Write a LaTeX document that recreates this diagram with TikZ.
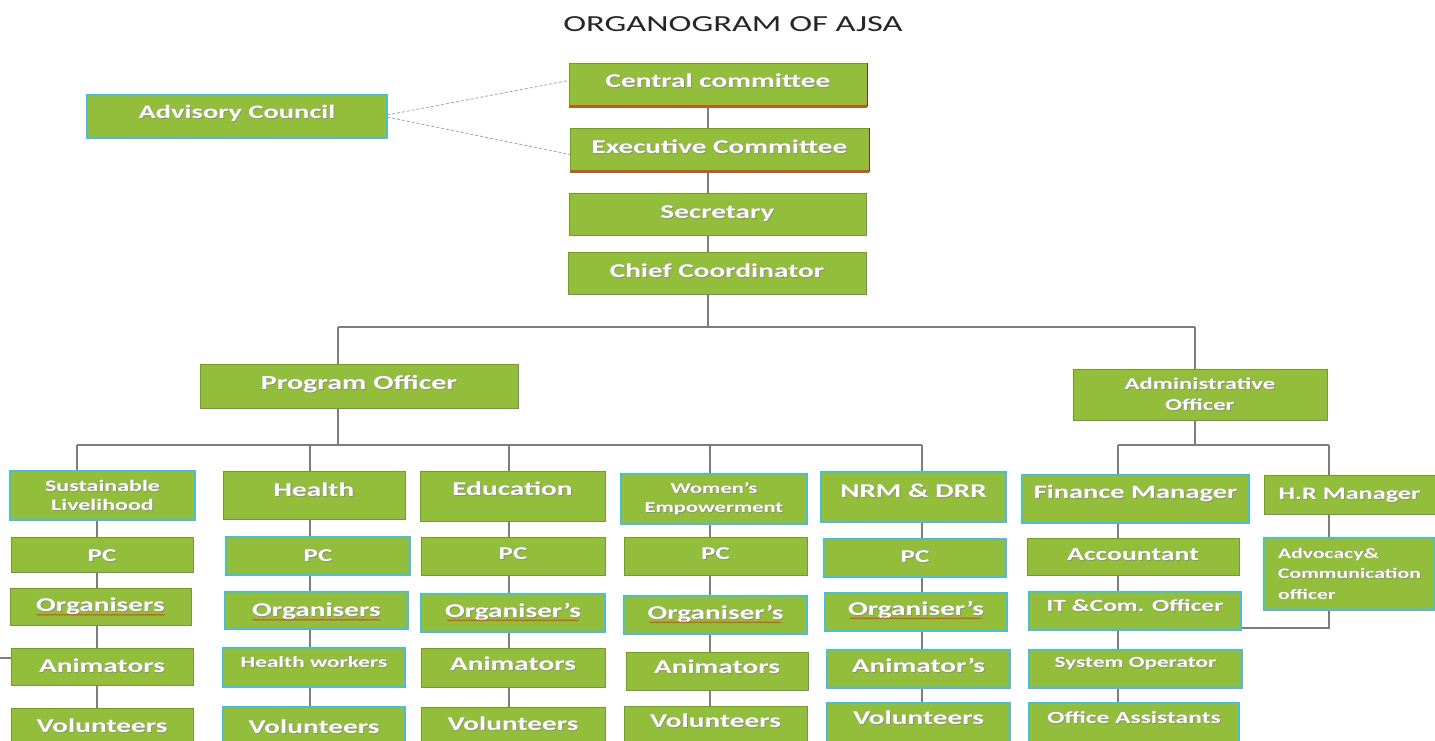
\documentclass[tikz,border=0pt]{standalone}
\usepackage{fontspec}
\setmainfont{Carlito}
\newfontfamily\bxf[FakeStretch=1.5]{Carlito}
\newfontfamily\ttlf[FakeStretch=1.5]{Carlito}
\usetikzlibrary{backgrounds,decorations.pathmorphing}
\definecolor{gr}{RGB}{146,190,60}
\definecolor{tl}{RGB}{78,190,205}
\definecolor{og}{RGB}{185,95,25}
\definecolor{ln}{RGB}{125,125,125}
\definecolor{sq}{RGB}{215,75,30}
\newcommand\sh[1]{\leavevmode\rlap{\kern0.9pt\raisebox{-0.9pt}{\color{black!45}#1}}#1}
\newcommand\tx[2]{\raisebox{\dimexpr#1pt-0.322em\relax}[0pt][0pt]{\sh{#2}}}
\tikzset{
 box/.style={rectangle, fill=gr, draw=gr!80!black, line width=0.6pt, inner sep=0pt, outer sep=0pt, text=white, font=\bxf\bfseries\fontsize{19.5}{22}\selectfont},
 tbox/.style={box, draw=tl, line width=1.8pt},
 bx/.style args={#1/#2/#3/#4}{at={({(#1+#3)/2},{(#2+#4)/2})}, minimum width={#3-#1}, minimum height={#4-#2}},
 fs/.style 2 args={font=\bxf\bfseries\fontsize{#1}{#2}\selectfont},
 conn/.style={draw=ln, line width=1.1pt},
 dsh/.style={draw=ln!70, line width=0.8pt, densely dashed},
 squig/.style={draw=sq, line width=0.7pt, decorate, decoration={snake, amplitude=0.6pt, segment length=2.6pt}},
 orb/.style={draw=og, line width=2.6pt},
}
\begin{document}
\begin{tikzpicture}[x=1pt,y=-1pt]
\useasboundingbox (0,0) rectangle (1435,741);
% title
\node[font=\ttlf\fontsize{23}{26}\selectfont, text=black!85] (title) at (733,24) {ORGANOGRAM OF AJSA};
% top
\node[tbox, bx=87/95/387/138, fs={19}{22}] (adv) {\tx{4.5}{Advisory Council}};
\node[box, bx=569/63/867/106] (cen) {\tx{3}{Central committee}};
\node[box, bx=570/128/869/171] (exe) {\tx{2.5}{Executive Committee}};
\node[box, bx=569/193/866/235] (sec) {\tx{1.5}{Secretary}};
\node[box, bx=568/252/866/294] (chief) {\tx{2}{Chief Coordinator}};
\node[box, bx=200/364/518/408, fs={20}{23}] (prog) {\tx{3}{Program Officer}};
\node[box, bx=1073/369/1327/420, fs={16.5}{21}, align=center] (admin) {\sh{Administrative}\\\sh{Officer}};
% row 1
\node[tbox, bx=10/471/195/520, fs={16}{19}, align=center] (s0) {\sh{Sustainable}\\\sh{Livelihood}};
\node[box, bx=223/471/405/519] (h0) {\tx{4.5}{Health}};
\node[box, bx=420/471/605/521] (e0) {\tx{7}{Education}};
\node[tbox, bx=621/474/807/524, fs={15}{19}, align=center] (w0) {\sh{Women’s}\\\sh{Empowerment}};
\node[tbox, bx=821/472/1006/522] (n0) {\tx{6}{NRM \& DRR}};
\node[tbox, bx=1022/475/1249/523, fs={19}{22}] (fin) {\tx{7}{Finance Manager}};
\node[box, bx=1264/475/1435/514, fs={17.5}{21}] (hr) {\tx{1}{H.R Manager}};
% row 2
\node[box, bx=11/537/193/572, fs={18}{21}] (s1) {\tx{-1}{PC}};
\node[tbox, bx=226/537/410/575, fs={18}{21}] (h1) {\tx{0}{PC}};
\node[box, bx=421/537/605/575, fs={18}{21}] (e1) {\tx{2}{PC}};
\node[box, bx=624/537/807/575, fs={18}{21}] (w1) {\tx{2}{PC}};
\node[tbox, bx=824/539/1006/577, fs={18}{21}] (n1) {\tx{1}{PC}};
\node[box, bx=1027/538/1239/575, fs={18.5}{21}] (acc) {\tx{2}{Accountant}};
\node[tbox, bx=1264/538/1435/610, fs={14.5}{20.5}, align=left] (advoc) {\sh{Advocacy\&}\\\sh{Communication}\\\sh{officer}};
% row 3
\node[box, bx=10/588/191/625] (s2) {\tx{1}{Organisers}};
\node[tbox, bx=225/592/408/629] (h2) {\tx{0}{Organisers}};
\node[tbox, bx=421/594/605/632] (e2) {\tx{2}{Organiser’s}};
\node[tbox, bx=624/596/807/634] (w2) {\tx{2}{Organiser’s}};
\node[tbox, bx=825/593/1007/631] (n2) {\tx{3}{Organiser’s}};
\node[tbox, bx=1029/592/1241/630, fs={17}{20}] (it) {\tx{5}{IT \&Com. Officer}};
% row 4
\node[box, bx=11/648/193/685] (s3) {\tx{0.5}{Animators}};
\node[tbox, bx=223/648/405/687, fs={15.5}{19}] (h3) {\tx{4.5}{Health workers}};
\node[box, bx=421/648/605/687] (e3) {\tx{3.5}{Animators}};
\node[box, bx=626/652/808/690] (w3) {\tx{3.5}{Animators}};
\node[tbox, bx=827/650/1010/688] (n3) {\tx{2.5}{Animator’s}};
\node[tbox, bx=1029/650/1242/688, fs={15.5}{19}] (sys) {\tx{6}{System Operator}};
% row 5
\node[box, bx=11/708/193/748] (s4) {\tx{2}{Volunteers}};
\node[tbox, bx=223/707/405/748] (h4) {\tx{0.5}{Volunteers}};
\node[box, bx=421/707/605/748] (e4) {\tx{3}{Volunteers}};
\node[box, bx=624/706/807/748] (w4) {\tx{5.5}{Volunteers}};
\node[tbox, bx=827/703/1010/748] (n4) {\tx{7.5}{Volunteers}};
\node[tbox, bx=1029/703/1239/748, fs={17}{20}] (off) {\tx{7}{Office Assistants}};
% orange edges
\draw[orb] ([yshift=-0.6pt]cen.south west) -- ([yshift=-0.6pt]cen.south east);
\draw[orb] ([yshift=-0.6pt]exe.south west) -- ([yshift=-0.6pt]exe.south east);
\draw[draw=og!60!black, line width=0.9pt] (cen.south east) -- (cen.north east);
\draw[draw=og!60!black, line width=0.9pt] (exe.south east) -- (exe.north east);
% spell-check squiggles
\foreach \n/\w/\o in {s2/64/1, h2/64/0, e2/66/2, w2/66/2, n2/66/3}
  \draw[squig] ([shift={(-\w,{9.3-\o})}]\n.center) -- ([shift={(\w,{9.3-\o})}]\n.center);
% connectors
\begin{scope}[on background layer]
\fill[white] (0,0) rectangle (1435,741);
\coordinate (sp) at (708,0);
\coordinate (b0) at (708,327);
\coordinate (bp) at (338,327);
\coordinate (ba) at (1195,327);
\coordinate (q0) at (338,445);
\coordinate (qs) at (77,445);
\coordinate (xh) at (310,445);
\coordinate (xe) at (509,445);
\coordinate (xw) at (710,445);
\coordinate (xn) at (922,445);
\coordinate (cs) at (97,0);
\coordinate (ad) at (1195,445);
\coordinate (af) at (1118,445);
\coordinate (ah) at (1329,445);
\coordinate (st0) at (0,658);
\coordinate (st1) at (12,658);
\draw[dsh] ([yshift=1.5pt]adv.east) -- ([yshift=4pt]cen.west);
\draw[dsh] ([yshift=-0.5pt]adv.east) -- ([yshift=-5pt]exe.west);
\draw[conn] (cen.south -| sp) -- (exe.north -| sp);
\draw[conn] (exe.south -| sp) -- (sec.north -| sp);
\draw[conn] (sec.south -| sp) -- (chief.north -| sp);
\draw[conn] (chief.south -| sp) -- (b0);
\draw[conn] (bp) -- (ba);
\draw[conn] (bp) -- (prog.north -| bp);
\draw[conn] (ba) -- (admin.north -| ba);
\draw[conn] (prog.south -| q0) -- (q0);
\draw[conn] (qs) -- (xn);
\draw[conn] (qs) -- (s0.north -| qs);
\draw[conn] (xh) -- (h0.north -| xh);
\draw[conn] (xe) -- (e0.north -| xe);
\draw[conn] (xw) -- (w0.north -| xw);
\draw[conn] (xn) -- (n0.north -| xn);
\foreach \a/\b in {s0/s1,s1/s2,s2/s3,s3/s4}
  \draw[conn] (\a.south -| cs) -- (\b.north -| cs);
\foreach \a/\b in {h0/h1,h1/h2,h2/h3,h3/h4}
  \draw[conn] (\a.south -| xh) -- (\b.north -| xh);
\foreach \a/\b in {e0/e1,e1/e2,e2/e3,e3/e4}
  \draw[conn] (\a.south -| xe) -- (\b.north -| xe);
\foreach \a/\b in {w0/w1,w1/w2,w2/w3,w3/w4}
  \draw[conn] (\a.south -| xw) -- (\b.north -| xw);
\foreach \a/\b in {n0/n1,n1/n2,n2/n3,n3/n4}
  \draw[conn] (\a.south -| xn) -- (\b.north -| xn);
\draw[conn] (admin.south -| ad) -- (ad);
\draw[conn] (af) -- (ah);
\draw[conn] (af) -- (fin.north -| af);
\draw[conn] (ah) -- (hr.north -| ah);
\foreach \a/\b in {fin/acc,acc/it,it/sys,sys/off}
  \draw[conn] (\a.south -| af) -- (\b.north -| af);
\draw[conn] (hr.south -| ah) -- (advoc.north -| ah);
\draw[conn] (advoc.south -| ah) |- ([yshift=2pt]it.south east);
\draw[conn] (st0) -- (st1);
\end{scope}
\end{tikzpicture}
\end{document}
